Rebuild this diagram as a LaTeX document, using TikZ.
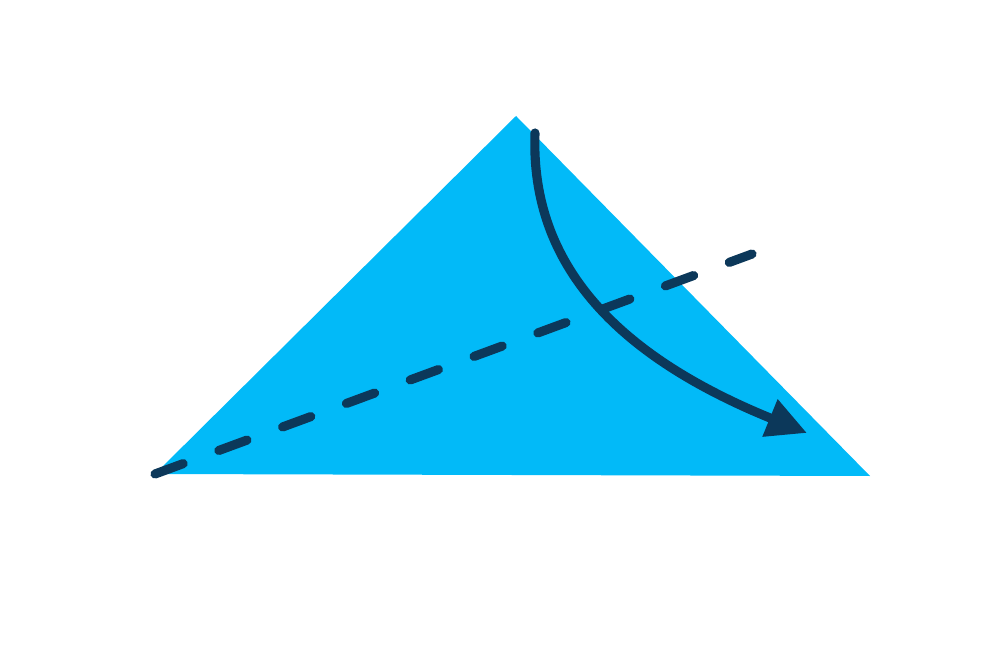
\documentclass[tikz,border=0pt]{standalone}
\usetikzlibrary{arrows.meta}
\definecolor{paper}{RGB}{2,186,248}
\definecolor{ink}{RGB}{12,56,90}
\tikzset{
  foldline/.style={ink, line width=2.6pt, line cap=round, dash pattern=on 0.3cm off 0.38cm},
  foldarrow/.style={ink, line width=2.6pt, line cap=round, -{Triangle[length=0.4cm, width=0.38cm]}}
}
\begin{document}
\begin{tikzpicture}
    \useasboundingbox (0, 0) rectangle (10, 6.67);
    \coordinate (top) at (5.16, 5.51);
    \coordinate (left) at (1.55, 1.93);
    \coordinate (right) at (8.70, 1.91);
    \fill[paper] (top) -- (left) -- (right) -- cycle;

    % valley fold
    \coordinate (foldend) at (7.52, 4.13);
    \draw[foldline] (left) -- (foldend);

    % fold the top corner down to the right
    \coordinate (start) at (5.35, 5.34);
    \coordinate (stop) at (8.07, 2.34);
    \draw[foldarrow] (start) .. controls (5.3, 4.0) and (6.2, 3.1) .. (stop);
\end{tikzpicture}
\end{document}
